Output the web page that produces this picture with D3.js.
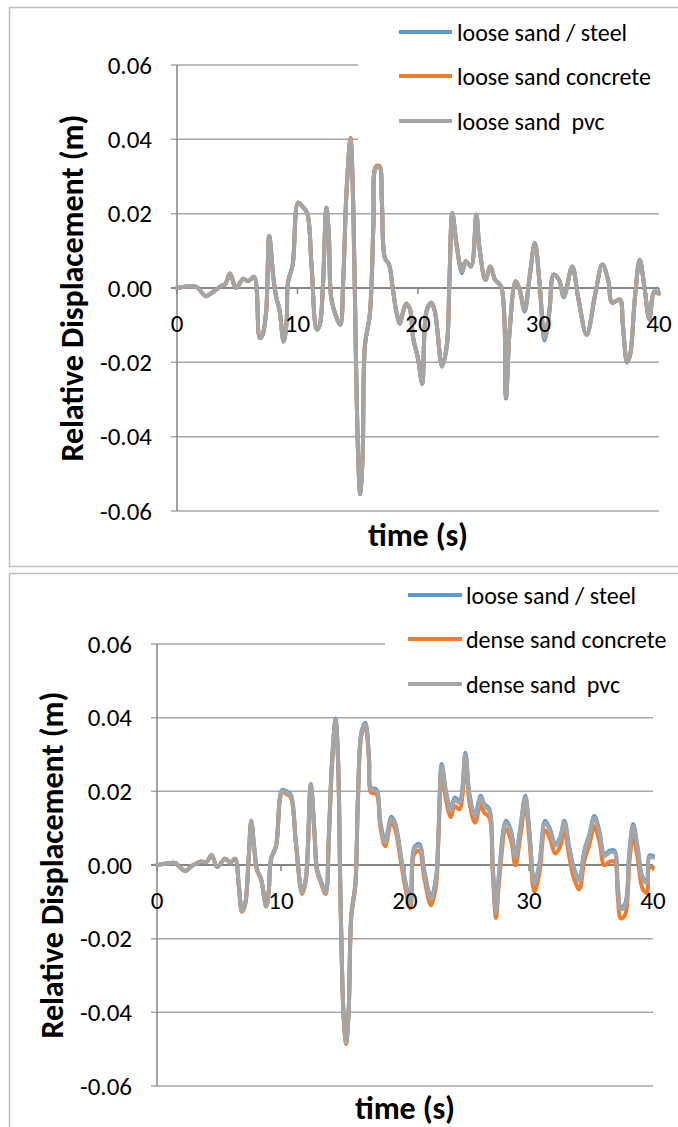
<!DOCTYPE html>
<html>
<head>
<meta charset="utf-8">
<script src="https://d3js.org/d3.v7.min.js"></script>
<style>
body {margin: 0; background: #fff;}
text {font-family: Carlito, Calibri, Lato, sans-serif; fill: #000;}
</style>
</head>
<body>
<svg id="chart" width="678" height="1127"></svg>
<script>
// ---- data ----
var xTicks = [0, 10, 20, 30, 40]
var yTicks = [-0.06, -0.04, -0.02, 0, 0.02, 0.04, 0.06]

var topNames = ["loose sand / steel", "loose sand concrete", "loose sand  pvc"]
var bottomNames = ["loose sand / steel", "dense sand concrete", "dense sand  pvc"]
var colors = ["#5B9BD5", "#ED7D31", "#A5A5A5"]

var timeTop = [0, 0.8, 1.5, 1.75, 2.4, 3.0, 3.7, 4.0, 4.4, 4.9,
  5.5, 5.9, 6.4, 6.87, 7.1, 7.4, 7.65, 8.0, 8.25, 8.5,
  8.85, 9.1, 9.2, 9.6, 10.05, 10.4, 10.8, 11.16, 11.6, 11.85,
  12.1, 12.4, 12.6, 12.8, 13.2, 13.55, 13.8, 14.07, 14.4, 14.63,
  14.85, 15.04, 15.2, 15.4, 15.6, 16.0, 16.3, 16.5, 16.8, 17.0,
  17.25, 17.6, 17.9, 18.2, 18.5, 18.7, 19.0, 19.3, 19.6, 20.0,
  20.35, 20.7, 21.1, 21.4, 22.0, 22.4, 22.6, 22.85, 23.2, 23.65,
  23.96, 24.4, 24.84, 25.1, 25.6, 26.0, 26.4, 26.9, 27.3, 27.6,
  28.1, 28.4, 28.85, 29.25, 29.7, 30.1, 30.5, 30.9, 31.26, 31.7,
  32.1, 32.8, 33.3, 34.0, 34.7, 35.3, 35.8, 36.1, 36.75, 37.0,
  37.35, 37.6, 38.0, 38.4, 38.8, 39.2, 39.6, 40.0]

var steelTop = [0, 0.0004, 0.0004, 0, -0.0022, -0.001, 0.0006, 0.001, 0.0039, 0,
  0.0025, 0.0018, 0.003, -0.0135, -0.0126, -0.0063, 0.014, 0.0027, -0.0027, -0.0058,
  -0.0144, -0.009, 0.0013, 0.0063, 0.023, 0.022, 0.0202, 0.0063, -0.0112, -0.0099,
  0, 0.0216, 0.0144, -0.0027, -0.0076, -0.0099, 0.0027, 0.026, 0.040, 0.0216,
  -0.0189, -0.0458, -0.0555, -0.0458, -0.0153, -0.0072, 0.017, 0.0324, 0.0325, 0.0234,
  0.0081, 0.0063, 0, -0.0063, -0.0096, -0.0072, -0.0045, -0.0054, -0.0135, -0.019,
  -0.0258, -0.0063, -0.004, -0.0063, -0.0211, -0.0153, 0.0009, 0.0202, 0.0117, 0.0040,
  0.0072, 0.0058, 0.0198, 0.0108, 0.0022, 0.0058, 0.0022, 0.0004, -0.0297, -0.0117,
  0.0018, 0, -0.0063, 0.0027, 0.0121, 0.0009, -0.0141, -0.0063, 0.0036, 0.0022,
  -0.0025, 0.0058, -0.0027, -0.0126, -0.0018, 0.0063, 0.0018, -0.004, -0.0031, -0.0099,
  -0.0201, -0.018, -0.0027, 0.0076, 0, -0.0085, -0.0009, -0.0013]

var concreteTop = [0, 0.0004, 0.0004, 0, -0.0022, -0.001, 0.0006, 0.001, 0.0039, 0,
  0.0025, 0.0018, 0.003, -0.0135, -0.0126, -0.0063, 0.014, 0.0027, -0.0027, -0.0058,
  -0.0144, -0.009, 0.0013, 0.0063, 0.023, 0.022, 0.0202, 0.0063, -0.0112, -0.0099,
  0, 0.0216, 0.0144, -0.0027, -0.0076, -0.0099, 0.0027, 0.026, 0.0404, 0.0216,
  -0.0189, -0.0458, -0.0550, -0.0458, -0.0153, -0.0072, 0.017, 0.0327, 0.0328, 0.0234,
  0.0081, 0.0063, 0, -0.0063, -0.0096, -0.0072, -0.0042, -0.0054, -0.0135, -0.019,
  -0.0256, -0.0063, -0.004, -0.0063, -0.0211, -0.0153, 0.0009, 0.0202, 0.0117, 0.0045,
  0.0072, 0.0058, 0.0198, 0.0108, 0.0022, 0.0058, 0.0022, 0.0004, -0.0292, -0.0117,
  0.0018, 0, -0.0058, 0.0027, 0.0121, 0.0009, -0.0135, -0.0063, 0.0036, 0.0022,
  -0.0022, 0.0058, -0.0027, -0.0126, -0.0018, 0.0063, 0.0018, -0.004, -0.0031, -0.0099,
  -0.0198, -0.018, -0.0027, 0.0076, 0, -0.0085, -0.0012, -0.0016]

var pvcTop = [0, 0.0004, 0.0004, 0, -0.0022, -0.001, 0.0006, 0.001, 0.0039, 0,
  0.0025, 0.0018, 0.003, -0.0135, -0.0126, -0.0063, 0.014, 0.0027, -0.0027, -0.0058,
  -0.0144, -0.009, 0.0013, 0.0063, 0.023, 0.022, 0.0202, 0.0063, -0.0112, -0.0099,
  0, 0.0216, 0.0144, -0.0027, -0.0076, -0.0099, 0.0027, 0.026, 0.040, 0.0216,
  -0.0189, -0.0458, -0.0553, -0.0458, -0.0153, -0.0072, 0.017, 0.0324, 0.0325, 0.0234,
  0.0081, 0.0063, 0, -0.0063, -0.0096, -0.0072, -0.0045, -0.0054, -0.0135, -0.019,
  -0.0256, -0.0063, -0.004, -0.0063, -0.0211, -0.0153, 0.0009, 0.0202, 0.0117, 0.0045,
  0.0072, 0.0058, 0.0198, 0.0108, 0.0022, 0.0058, 0.0022, 0.0004, -0.0292, -0.0117,
  0.0018, 0, -0.0058, 0.0027, 0.0121, 0.0009, -0.0135, -0.0063, 0.0036, 0.0022,
  -0.0022, 0.0058, -0.0027, -0.0126, -0.0018, 0.0063, 0.0018, -0.004, -0.0031, -0.0099,
  -0.0198, -0.018, -0.0027, 0.0076, 0, -0.0085, -0.0009, -0.0013]

var timeBottom = [0, 0.95, 1.5, 1.75, 2.3, 2.8, 3.5, 4.0, 4.4, 4.85,
  5.5, 5.9, 6.3, 6.6, 6.85, 7.1, 7.4, 7.6, 7.85, 8.06,
  8.4, 8.8, 9.0, 9.2, 9.6, 10.1, 10.5, 10.8, 11.2, 11.7,
  12.0, 12.4, 12.7, 12.9, 13.2, 13.6, 13.85, 14.1, 14.4, 14.6,
  14.8, 15.05, 15.25, 15.45, 15.67, 16.0, 16.2, 16.5, 16.8, 17.1,
  17.25, 17.7, 18.0, 18.4, 18.9, 19.2, 19.7, 20.1, 20.45, 20.75,
  21.15, 21.56, 22.1, 22.5, 22.7, 22.96, 23.3, 23.7, 24.0, 24.4,
  24.87, 25.2, 25.65, 26.1, 26.4, 26.8, 27.07, 27.34, 27.6, 28.15,
  28.55, 28.9, 29.3, 29.7, 30.03, 30.43, 30.83, 31.3, 31.7, 32.1,
  32.5, 32.85, 33.25, 33.65, 34.06, 34.46, 34.87, 35.27, 35.67, 36.08,
  36.5, 36.9, 37.15, 37.4, 37.74, 38.1, 38.4, 38.76, 39.17, 39.5,
  39.7, 40.0]

var steelBottom = [0, 0.0005, 0.0005, -0.0003, -0.0016, -0.0003, 0.0009, 0.0008, 0.0027, -0.0005,
  0.0017, 0.0006, 0.0017, -0.0056, -0.0124, -0.0106, 0.0025, 0.0121, 0.0044, -0.0011,
  -0.0038, -0.0110, -0.0074, 0.0018, 0.0053, 0.0204, 0.0199, 0.0190, 0.0063, -0.0073,
  -0.0037, 0.0220, 0.0090, -0.0010, -0.0041, -0.0073, 0.0073, 0.0273, 0.0398, 0.0290,
  -0.0090, -0.0407, -0.0479, -0.0398, -0.0135, -0.0049, 0.0181, 0.0363, 0.0386, 0.0291,
  0.0209, 0.0205, 0.0119, 0.0065, 0.0131, 0.0114, 0.0019, -0.0056, -0.0100, 0.0048,
  0.0057, -0.0016, -0.0088, -0.0034, 0.0093, 0.0274, 0.0201, 0.0152, 0.0183, 0.0174,
  0.0305, 0.0192, 0.0138, 0.0188, 0.0165, 0.0152, 0.0002, -0.0124, -0.0016, 0.0120,
  0.0093, 0.0025, 0.0102, 0.0188, 0.0093, -0.0047, 0.0002, 0.0120, 0.0097, 0.0057,
  0.0075, 0.0120, 0.0048, -0.0011, -0.0038, 0.0039, 0.0084, 0.0133, 0.0093, 0.0029,
  0.0039, 0.0039, -0.0052, -0.0115, -0.0106, 0.0039, 0.0111, 0.0048, -0.0034, -0.0043,
  0.0025, 0.0025]

var concreteBottom = [0, 0.0005, 0.0005, -0.0003, -0.0016, -0.0003, 0.0009, 0.0008, 0.0027, -0.0005,
  0.0017, 0.0006, 0.0017, -0.0058, -0.0127, -0.0109, 0.0022, 0.0118, 0.0041, -0.0014,
  -0.0041, -0.0113, -0.0077, 0.0015, 0.0050, 0.0197, 0.0192, 0.0183, 0.0057, -0.0079,
  -0.0043, 0.0213, 0.0084, -0.0016, -0.0047, -0.0079, 0.0066, 0.0265, 0.0390, 0.0283,
  -0.0097, -0.0414, -0.0486, -0.0405, -0.0142, -0.0056, 0.0172, 0.0353, 0.0376, 0.0281,
  0.0197, 0.0193, 0.0106, 0.0051, 0.0116, 0.0098, 0.0002, -0.0074, -0.0118, 0.0030,
  0.0038, -0.0037, -0.0110, -0.0057, 0.0070, 0.0251, 0.0177, 0.0130, 0.0160, 0.0151,
  0.0282, 0.0169, 0.0115, 0.0165, 0.0142, 0.0129, -0.0020, -0.0144, -0.0040, 0.0097,
  0.0068, -0.0001, 0.0077, 0.0163, 0.0068, -0.0072, -0.0024, 0.0094, 0.0071, 0.0031,
  0.0049, 0.0094, 0.0021, -0.0039, -0.0066, 0.0011, 0.0056, 0.0105, 0.0065, -0.0001,
  0.0009, 0.0009, -0.0082, -0.0145, -0.0136, 0.0009, 0.0081, 0.0018, -0.0066, -0.0075,
  -0.0007, -0.0007]

var pvcBottom = [0, 0.0005, 0.0005, -0.0003, -0.0016, -0.0003, 0.0009, 0.0008, 0.0027, -0.0005,
  0.0017, 0.0006, 0.0017, -0.0057, -0.0125, -0.0107, 0.0024, 0.012, 0.0043, -0.0012,
  -0.0039, -0.0111, -0.0075, 0.0017, 0.0052, 0.0201, 0.0196, 0.0187, 0.0061, -0.0075,
  -0.0039, 0.0217, 0.0088, -0.0012, -0.0043, -0.0075, 0.007, 0.0269, 0.0394, 0.0287,
  -0.0093, -0.041, -0.0482, -0.0401, -0.0138, -0.0052, 0.0178, 0.0359, 0.0382, 0.0287,
  0.0205, 0.0201, 0.0115, 0.0061, 0.0127, 0.011, 0.0015, -0.006, -0.0105, 0.0043,
  0.0052, -0.0021, -0.0093, -0.0039, 0.0088, 0.0269, 0.0196, 0.0147, 0.0178, 0.0169,
  0.030, 0.0187, 0.0133, 0.0183, 0.016, 0.0147, -0.0003, -0.0129, -0.0021, 0.0115,
  0.0088, 0.002, 0.0097, 0.0183, 0.0088, -0.0052, -0.0003, 0.0115, 0.0092, 0.0052,
  0.007, 0.0115, 0.0043, -0.0016, -0.0043, 0.0034, 0.0079, 0.0128, 0.0088, 0.0024,
  0.0034, 0.0034, -0.0057, -0.012, -0.0111, 0.0034, 0.0106, 0.0043, -0.0039, -0.0048,
  0.002, 0.002]

// ---- layout of the two chart boxes ----
var panels = [
  {box: [9.5, 7.5, 680, 559], x0: 177, x1: 659, yTop: 65, yBot: 511,
   legend: [358, 12, 320, 140], lineX: [399, 452], textX: 457, rowY: [32, 76, 121],
   titleX: 72, xTitleY: 535, time: timeTop, series: [steelTop, concreteTop, pvcTop], names: topNames},
  {box: [9.5, 573.5, 680, 600], x0: 157, x1: 653, yTop: 644, yBot: 1086,
   legend: [385, 578, 293, 128], lineX: [408, 462], textX: 466, rowY: [595, 639, 684],
   titleX: 52, xTitleY: 1108, time: timeBottom, series: [steelBottom, concreteBottom, pvcBottom], names: bottomNames}
]

var svg = d3.select("#chart")

function drawPanel(p) {
  var g = svg.append("g")
  var x = d3.scaleLinear().domain([0, 40]).range([p.x0, p.x1])
  var y = d3.scaleLinear().domain([-0.06, 0.06]).range([p.yBot, p.yTop])

  g.append("rect")
    .attr("x", p.box[0]).attr("y", p.box[1]).attr("width", p.box[2]).attr("height", p.box[3])
    .attr("fill", "#fff").attr("stroke", "#BFBFBF").attr("stroke-width", 1.5)

  // horizontal gridlines + y ticks
  g.selectAll(".grid").data(yTicks).enter().append("line")
    .attr("x1", p.x0 - 6).attr("x2", p.x1)
    .attr("y1", d => y(d)).attr("y2", d => y(d))
    .attr("stroke", d => d === 0 ? "#868686" : "#A6A6A6")
    .attr("stroke-width", d => d === 0 ? 2 : 1.5)

  g.selectAll(".ylab").data(yTicks).enter().append("text")
    .attr("x", p.x0 - 25).attr("y", d => y(d))
    .attr("text-anchor", "end").attr("dominant-baseline", "central")
    .style("font-size", "25px")
    .text(d => d.toFixed(2))

  // vertical axis
  g.append("line")
    .attr("x1", p.x0).attr("x2", p.x0).attr("y1", p.yTop).attr("y2", p.yBot)
    .attr("stroke", "#868686").attr("stroke-width", 1.5)

  // x ticks along the zero line
  g.selectAll(".xtick").data(xTicks).enter().append("line")
    .attr("x1", d => x(d)).attr("x2", d => x(d))
    .attr("y1", y(0)).attr("y2", y(0) + 6)
    .attr("stroke", "#868686").attr("stroke-width", 1.5)

  var line = d3.line().x((d, i) => x(p.time[i])).y(d => y(d)).curve(d3.curveCatmullRom.alpha(0.5))
  p.series.forEach(function(s, k) {
    g.append("path")
      .attr("d", line(s))
      .attr("fill", "none").attr("stroke", colors[k]).attr("stroke-width", 4)
      .attr("stroke-linejoin", "round").attr("stroke-linecap", "round")
  })

  g.selectAll(".xlab").data(xTicks).enter().append("text")
    .attr("x", d => x(d)).attr("y", y(0) + 35)
    .attr("text-anchor", "middle").attr("dominant-baseline", "central")
    .style("font-size", "25px")
    .text(d => d)

  // axis titles
  g.append("text")
    .attr("transform", "translate(" + p.titleX + "," + y(0) + ") rotate(-90)")
    .attr("text-anchor", "middle").attr("dominant-baseline", "central")
    .attr("textLength", 347)
    .style("font-size", "32px").style("font-weight", "bold")
    .text("Relative Displacement (m)")
  g.append("text")
    .attr("x", (p.x0 + p.x1) / 2).attr("y", p.xTitleY)
    .attr("text-anchor", "middle").attr("dominant-baseline", "central")
    .attr("textLength", 100)
    .style("font-size", "32px").style("font-weight", "bold")
    .text("time (s)")

  // legend
  g.append("rect")
    .attr("x", p.legend[0]).attr("y", p.legend[1]).attr("width", p.legend[2]).attr("height", p.legend[3])
    .attr("fill", "#fff")
  p.names.forEach(function(name, k) {
    g.append("line")
      .attr("x1", p.lineX[0]).attr("x2", p.lineX[1])
      .attr("y1", p.rowY[k]).attr("y2", p.rowY[k])
      .attr("stroke", colors[k]).attr("stroke-width", 4)
    g.append("text")
      .attr("x", p.textX).attr("y", p.rowY[k])
      .attr("dominant-baseline", "central")
      .style("font-size", "24px").style("white-space", "pre")
      .text(name)
  })
}

panels.forEach(drawPanel)
</script>
</body>
</html>
